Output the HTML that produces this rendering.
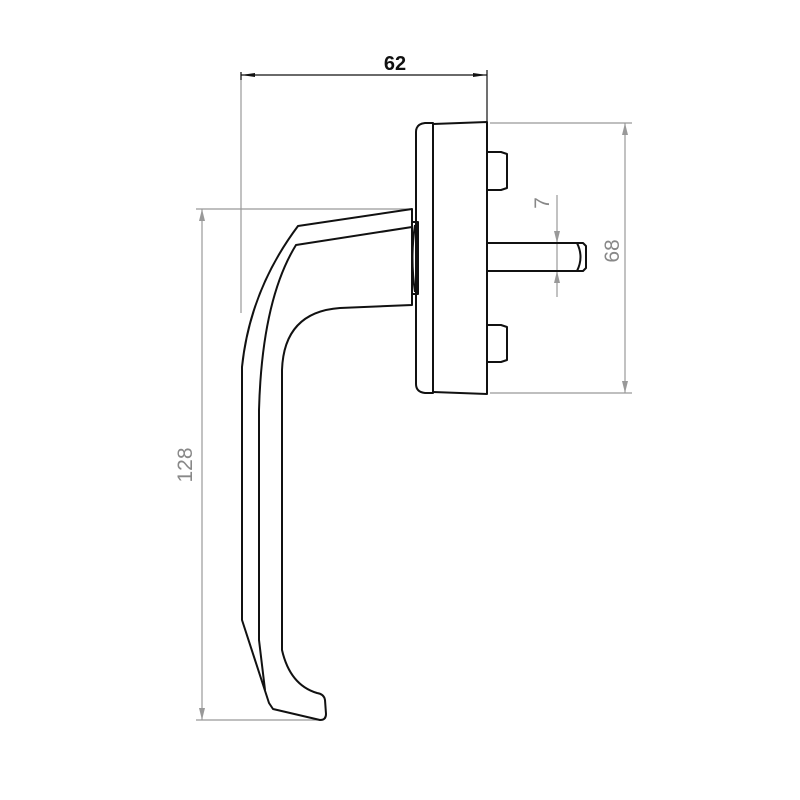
<!DOCTYPE html>
<html><head><meta charset="utf-8"><style>html,body{margin:0;padding:0;background:#fff}svg{display:block}</style></head>
<body>
<svg width="800" height="800" viewBox="0 0 800 800" xmlns="http://www.w3.org/2000/svg">
<g stroke="#999" stroke-width="1.2" fill="none">
  <line x1="241" y1="72" x2="241" y2="313"/>
  <line x1="196" y1="209" x2="410" y2="209"/>
  <line x1="196" y1="720" x2="320" y2="720"/>
  <line x1="202" y1="209" x2="202" y2="720"/>
  <line x1="490" y1="123" x2="632" y2="123"/>
  <line x1="490" y1="393" x2="632" y2="393"/>
  <line x1="625" y1="123" x2="625" y2="393"/>
  <line x1="557" y1="195" x2="557" y2="297"/>
</g>
<g fill="#999">
  <polygon points="202,209 199,221 205,221"/>
  <polygon points="202,720 199,708 205,708"/>
  <polygon points="625,123 622,135 628,135"/>
  <polygon points="625,393 622,381 628,381"/>
  <polygon points="557,243 554,231 560,231"/>
  <polygon points="557,271 554,283 560,283"/>
</g>
<g stroke="#111" stroke-width="1.2" fill="none">
  <line x1="241" y1="72" x2="241" y2="80"/>
  <line x1="487" y1="70" x2="487" y2="123"/>
  <line x1="241" y1="75" x2="487" y2="75"/>
</g>
<polygon points="241,75 255,73 255,77" fill="#111"/>
<polygon points="487,75 473,73 473,77" fill="#111"/>
<text x="395" y="70" font-family="Liberation Sans, sans-serif" font-weight="bold" font-size="20" text-anchor="middle" fill="#111">62</text>
<text transform="translate(192,465) rotate(-90)" font-family="Liberation Sans, sans-serif" font-size="21" text-anchor="middle" fill="#888">128</text>
<text transform="translate(619,251) rotate(-90)" font-family="Liberation Sans, sans-serif" font-size="21" text-anchor="middle" fill="#888">68</text>
<text transform="translate(549,203) rotate(-90)" font-family="Liberation Sans, sans-serif" font-size="21" text-anchor="middle" fill="#888">7</text>
<g stroke="#111" stroke-width="2" fill="none" stroke-linejoin="round">
  <!-- rose -->
  <path d="M433,123 L425,123 Q416,124 416,132 L416,384 Q416,392 425,393 L433,393 Z"/>
  <path d="M433,124 L487,122 L487,394 L433,392"/>
  <!-- studs -->
  <path d="M487,152 L501,152 L507,154 L507,188 L501,190 L487,190"/>
  <path d="M487,325 L501,325 L507,327 L507,360 L501,362 L487,362"/>
  <!-- spindle -->
  <path d="M487,243 L583,243 L586,246 L586,268 L583,271 L487,271"/>
  <path d="M577,243 Q584,257 577,271"/>
  <!-- neck fitting -->
  <path d="M412,222 L418,222 L418,294 L412,294"/>
  <path d="M415,225 Q410,258 415,292"/>
  <!-- handle -->
  <path d="M412,209 L298,226 Q250,290 242,367 L242,620 L269,703 L273,709 L320,720 Q326,720 326,714 L325,700 Q324,694 317,693 Q290,685 282,650 L282,370 Q284,312 340,308 L412,305 Z"/>
  <path d="M412,227 L296,245 Q262,300 259,410 L259,640 L265,690"/>
</g>
</svg>
</body></html>
